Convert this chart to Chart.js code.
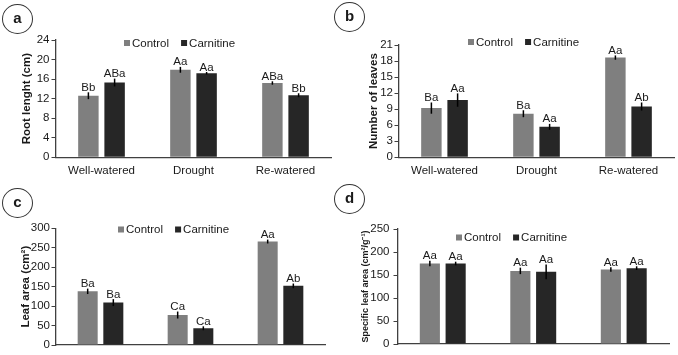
<!DOCTYPE html>
<html>
<head>
  <title>Carnitine growth panels</title>
  <script src="https://cdn.jsdelivr.net/npm/chart.js"></script>
  <style>
    body { margin: 0; background: #fff; }
    #wrap { position: relative; width: 678px; height: 355px; overflow: hidden; }
    canvas { position: absolute; }
    .tag {
      position: absolute; box-sizing: border-box; width: 31px; height: 30px;
      border: 1.3px solid #333; border-radius: 50%;
      font: bold 15px "Liberation Sans", Arial, sans-serif; color: #1a1a1a;
      text-align: center; line-height: 26px;
    }
  </style>
</head>
<body>
<div id="wrap">
  <canvas id="pa" width="339" height="178" style="left:0;top:0"></canvas>
  <canvas id="pb" width="339" height="178" style="left:339px;top:0"></canvas>
  <canvas id="pc" width="339" height="177" style="left:0;top:178px"></canvas>
  <canvas id="pd" width="339" height="177" style="left:339px;top:178px"></canvas>
  <div class="tag" style="left:2px;top:4px">a</div>
  <div class="tag" style="left:334px;top:2px">b</div>
  <div class="tag" style="left:2px;top:188px">c</div>
  <div class="tag" style="left:334px;top:184px">d</div>
</div>
<script>
const categories = ['Well-watered', 'Drought', 'Re-watered'];
const seriesNames = ['Control', 'Carnitine'];
const seriesColors = ['#7f7f7f', '#262626'];

// (a) root length
const rootTicks = [0, 4, 8, 12, 16, 20, 24];
const rootControl = [12.6, 17.9, 15.2];
const rootControlErr = [0.7, 0.6, 0.35];
const rootCarnitine = [15.3, 17.2, 12.7];
const rootCarnitineErr = [0.8, 0.25, 0.4];
const rootControlSig = ['Bb', 'Aa', 'ABa'];
const rootCarnitineSig = ['ABa', 'Aa', 'Bb'];

// (b) number of leaves
const leavesTicks = [0, 3, 6, 9, 12, 15, 18, 21];
const leavesControl = [9.2, 8.15, 18.65];
const leavesControlErr = [1.05, 0.65, 0.4];
const leavesCarnitine = [10.7, 5.7, 9.5];
const leavesCarnitineErr = [1.25, 0.55, 0.75];
const leavesControlSig = ['Ba', 'Ba', 'Aa'];
const leavesCarnitineSig = ['Aa', 'Aa', 'Ab'];

// (c) leaf area
const areaTicks = [0, 50, 100, 150, 200, 250, 300];
const areaControl = [138, 77, 266];
const areaControlErr = [7, 9, 5];
const areaCarnitine = [109, 43, 152];
const areaCarnitineErr = [9, 5, 6];
const areaControlSig = ['Ba', 'Ca', 'Aa'];
const areaCarnitineSig = ['Ba', 'Ca', 'Ab'];

// (d) specific leaf area
const slaTicks = [0, 50, 100, 150, 200, 250];
const slaControl = [175, 159, 162];
const slaControlErr = [6, 7, 5];
const slaCarnitine = [175, 157, 165];
const slaCarnitineErr = [4, 16, 4];
const slaControlSig = ['Aa', 'Aa', 'Aa'];
const slaCarnitineSig = ['Aa', 'Aa', 'Aa'];

Chart.defaults.font.family = '"Liberation Sans", Arial, sans-serif';
Chart.defaults.font.size = 11.5;
Chart.defaults.color = '#1a1a1a';

// error bars, letters over bars and the little legend inside the plot
const barExtras = {
  id: 'barExtras',
  afterDatasetsDraw(chart, args, opts) {
    const ctx = chart.ctx;
    const y = chart.scales.y;
    ctx.save();
    ctx.strokeStyle = '#000';
    ctx.lineWidth = 1.5;
    ctx.fillStyle = '#1a1a1a';
    ctx.font = '11.5px "Liberation Sans", Arial, sans-serif';
    ctx.textAlign = 'center';
    ctx.textBaseline = 'alphabetic';
    chart.data.datasets.forEach((ds, i) => {
      chart.getDatasetMeta(i).data.forEach((bar, j) => {
        const v = ds.data[j], e = ds.errors[j];
        const top = y.getPixelForValue(v + e);
        const bot = y.getPixelForValue(v - e);
        ctx.beginPath();
        ctx.moveTo(bar.x, top);
        ctx.lineTo(bar.x, bot);
        ctx.stroke();
        ctx.fillText(ds.sig[j], bar.x, top - 1.5);
      });
    });
    // legend
    let lx = opts.x;
    ctx.textAlign = 'left';
    ctx.textBaseline = 'middle';
    chart.data.datasets.forEach(ds => {
      ctx.fillStyle = ds.backgroundColor;
      ctx.fillRect(lx, opts.y - 3, 6, 6);
      ctx.fillStyle = '#1a1a1a';
      ctx.fillText(ds.label, lx + 8, opts.y + 0.5);
      lx += 8 + ctx.measureText(ds.label).width + 12;
    });
    ctx.restore();
  }
};

function makePanel(id, p) {
  new Chart(document.getElementById(id), {
    type: 'bar',
    data: {
      labels: categories,
      datasets: [
        { label: seriesNames[0], data: p.control, errors: p.controlErr, sig: p.controlSig, backgroundColor: seriesColors[0] },
        { label: seriesNames[1], data: p.carnitine, errors: p.carnitineErr, sig: p.carnitineSig, backgroundColor: seriesColors[1] }
      ]
    },
    options: {
      responsive: false,
      animation: false,
      categoryPercentage: 0.57,
      barPercentage: 0.78,
      layout: { padding: { left: 0, right: p.right, top: p.top, bottom: 0 } },
      plugins: {
        legend: { display: false },
        tooltip: { enabled: false },
        barExtras: { x: p.legendX, y: p.legendY }
      },
      scales: {
        x: {
          grid: { display: false, drawTicks: false },
          border: { color: '#404040', width: 1.3 },
          ticks: { display: p.showX, padding: 7, autoSkip: false, maxRotation: 0 },
          afterFit(s) { s.height = p.xHeight; }
        },
        y: {
          min: p.ticks[0],
          max: p.ticks[p.ticks.length - 1],
          ticks: { stepSize: p.ticks[1] - p.ticks[0], padding: p.tickPad, autoSkip: false },
          grid: { drawOnChartArea: false, drawTicks: true, tickLength: 4, color: '#404040', lineWidth: 1 },
          border: { color: '#404040', width: 1.3 },
          title: {
            display: true, text: p.title,
            font: { size: p.titleSize, weight: 'bold' },
            padding: { top: p.titlePad, bottom: 0 }
          },
          afterFit(s) { s.width = p.yWidth; }
        }
      }
    },
    plugins: [barExtras]
  });
}

makePanel('pa', {
  control: rootControl, controlErr: rootControlErr, controlSig: rootControlSig,
  carnitine: rootCarnitine, carnitineErr: rootCarnitineErr, carnitineSig: rootCarnitineSig,
  ticks: rootTicks, title: 'Root lenght (cm)', titleSize: 11.5,
  yWidth: 55.5, xHeight: 20.7, right: 7.5, top: 40, titlePad: 20, tickPad: 2,
  showX: true, legendX: 124, legendY: 43
});
makePanel('pb', {
  control: leavesControl, controlErr: leavesControlErr, controlSig: leavesControlSig,
  carnitine: leavesCarnitine, carnitineErr: leavesCarnitineErr, carnitineSig: leavesCarnitineSig,
  ticks: leavesTicks, title: 'Number of leaves', titleSize: 11.5,
  yWidth: 59.5, xHeight: 20.7, right: 3.5, top: 45, titlePad: 28, tickPad: 1.5,
  showX: true, legendX: 129, legendY: 42
});
makePanel('pc', {
  control: areaControl, controlErr: areaControlErr, controlSig: areaControlSig,
  carnitine: areaCarnitine, carnitineErr: areaCarnitineErr, carnitineSig: areaCarnitineSig,
  ticks: areaTicks, title: 'Leaf area (cm²)', titleSize: 11.5,
  yWidth: 55.5, xHeight: 10, right: 13.5, top: 50.3, titlePad: 19, tickPad: 1.5,
  showX: false, legendX: 118, legendY: 51.5
});
makePanel('pd', {
  control: slaControl, controlErr: slaControlErr, controlSig: slaControlSig,
  carnitine: slaCarnitine, carnitineErr: slaCarnitineErr, carnitineSig: slaCarnitineSig,
  ticks: slaTicks, title: 'Specific leaf area (cm²/g⁻¹)', titleSize: 9,
  yWidth: 58.5, xHeight: 10, right: 9, top: 51, titlePad: 21, tickPad: 4,
  showX: false, legendX: 117, legendY: 59.5
});
</script>
</body>
</html>
